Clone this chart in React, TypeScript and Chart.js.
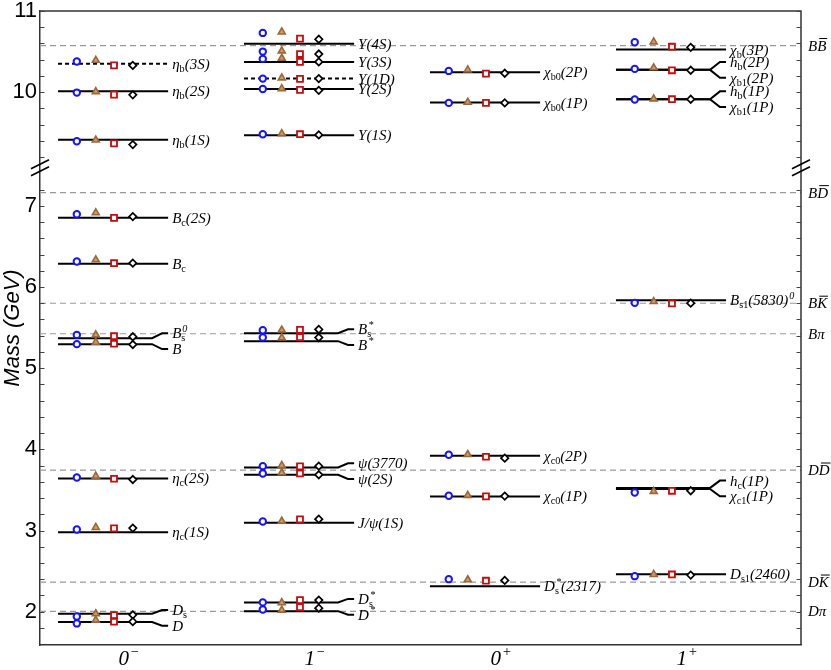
import React, { useEffect, useRef } from "react";
import { Chart, registerables } from "chart.js";

Chart.register(...registerables);

// ---------------- data ----------------
const GROUPS = ["0^{−}", "1^{−}", "0^{+}", "1^{+}"];
const GROUP_TICKS = [1, 2, 3, 4];
const Y_TICKS = [2, 3, 4, 5, 6, 7, 10, 11];

const STATE_NAMES = [
  "η_{b}(3S)", "η_{b}(2S)", "η_{b}(1S)", "B_{c}(2S)", "B_{c}", "B_{s}^{0}", "B",
  "η_{c}(2S)", "η_{c}(1S)", "D_{s}", "D",
  "Υ(4S)", "Υ(3S)", "Υ(1D)", "Υ(2S)", "Υ(1S)", "B_{s}^{*}", "B^{*}",
  "ψ(3770)", "ψ(2S)", "J/ψ(1S)", "D_{s}^{*}", "D^{*}",
  "χ_{b0}(2P)", "χ_{b0}(1P)", "χ_{c0}(2P)", "χ_{c0}(1P)", "D_{s}^{*}(2317)",
  "χ_{b}(3P)", "h_{b}(2P)", "χ_{b1}(2P)", "h_{b}(1P)", "χ_{b1}(1P)",
  "B_{s1}(5830)^{0}", "h_{c}(1P)", "χ_{c1}(1P)", "D_{s1}(2460)",
];
const STATE_GROUP = [
  0, 0, 0, 0, 0, 0, 0, 0, 0, 0, 0,
  1, 1, 1, 1, 1, 1, 1, 1, 1, 1, 1, 1,
  2, 2, 2, 2, 2,
  3, 3, 3, 3, 3, 3, 3, 3, 3,
];
const STATE_MASS = [
  10.349, 10.011, 9.413, 6.852, 6.286, 5.369, 5.296, 3.642, 2.98, 1.975, 1.872,
  10.598, 10.373, 10.167, 10.04, 9.469, 5.431, 5.333, 3.777, 3.687, 3.096, 2.115, 2.007,
  10.245, 9.872, 3.921, 3.42, 2.315,
  10.525, 10.275, 10.275, 9.913, 9.913, 5.837, 3.525, 3.511, 2.463,
];
const STATE_DASHED = [
  true, false, false, false, false, false, false, false, false, false, false,
  false, false, true, false, false, false, false, false, false, false, false, false,
  false, false, false, false, false,
  false, false, false, false, false, false, false, false, false,
];
// +1: label forked upward, -1: forked downward (paired with neighbour), 0: straight
const STATE_SIDE = [
  0, 0, 0, 0, 0, 1, -1, 0, 0, 1, -1,
  0, 0, 0, 0, 0, 1, -1, 1, -1, 0, 1, -1,
  0, 0, 0, 0, 0,
  0, 1, -1, 1, -1, 0, 1, -1, 0,
];

const THRESHOLD_NAMES = ["B~{B}", "B~{D}", "B~{K}", "Bπ", "D~{D}", "D~{K}", "Dπ"];
const THRESHOLD_MASS = [10.574, 7.162, 5.8, 5.424, 3.745, 2.365, 2.005];

const MARK_GROUP = [
  0, 0, 0, 0, 0, 0, 0, 0, 0, 0, 0,
  1, 1, 1, 1, 1, 1, 1, 1, 1, 1, 1, 1, 1,
  2, 2, 2, 2, 2,
  3, 3, 3, 3, 3, 3,
];
const MARK_CIRCLE = [
  10.377, 9.995, 9.395, 6.897, 6.314, 5.41, 5.296, 3.654, 3.013, 1.942, 1.856,
  10.73, 10.5, 10.41, 10.167, 10.04, 9.482, 5.468, 5.378, 3.793, 3.703, 3.112, 2.115, 2.028,
  10.262, 9.868, 3.933, 3.429, 2.401,
  10.615, 10.287, 9.909, 5.805, 3.469, 2.438,
];
const MARK_TRIANGLE = [
  10.393, 10.007, 9.41, 6.914, 6.335, 5.411, 5.32, 3.67, 3.038, 1.975, 1.897,
  10.742, 10.509, 10.418, 10.176, 10.044, 9.49, 5.47, 5.374, 3.802, 3.712, 3.116, 2.111, 2.02,
  10.275, 9.876, 3.937, 3.433, 2.394,
  10.62, 10.3, 9.917, 5.821, 3.482, 2.459,
];
const MARK_SQUARE = [
  10.33, 9.97, 9.37, 6.852, 6.293, 5.394, 5.301, 3.638, 3.026, 1.958, 1.877,
  10.66, 10.47, 10.373, 10.164, 10.028, 9.482, 5.472, 5.382, 3.79, 3.703, 3.137, 2.143, 2.057,
  10.229, 9.868, 3.909, 3.42, 2.382,
  10.56, 10.27, 9.913, 5.797, 3.49, 2.459,
];
const MARK_DIAMOND = [
  10.33, 9.967, 9.355, 6.868, 6.293, 5.387, 5.292, 3.629, 3.03, 1.962, 1.877,
  10.652, 10.47, 10.373, 10.167, 10.023, 9.474, 5.477, 5.378, 3.793, 3.687, 3.14, 2.143, 2.044,
  10.233, 9.868, 3.892, 3.424, 2.386,
  10.553, 10.27, 9.913, 5.801, 3.49, 2.451,
];

// ---------------- layout / style ----------------
const UPPER_FROM = 8.5; // masses above this live in the upper (bottomonium) panel
const UPPER_SHIFT = 1.6; // axis break: GeV removed between panels
const BREAK_MARK = 7.47; // plotted position of the break symbol
const Y_MIN = 1.59;
const Y_MAX_REAL = 11;
const X_MIN = 0.521;
const X_MAX = 4.613;
const LINE_START = -0.382;
const LINE_END = 0.21;
const BEND_START = 0.124;
const BEND_END = 0.177;
const MODEL_OFFSETS = [-0.281, -0.179, -0.081, 0.02];
const LABEL_SPREAD = 0.097;
const LABEL_SIZE = 15;
const XLABEL_SIZE = 21;
const SERIF = '"Liberation Serif", "Times New Roman", serif';
const SANS = '"Liberation Sans", Arial, sans-serif';

const toPlot = (m: number) => (m > UPPER_FROM ? m - UPPER_SHIFT : m);

function labelY(i: number): number {
  const side = STATE_SIDE[i];
  const y = toPlot(STATE_MASS[i]);
  if (!side) return y;
  const p = side > 0 ? i + 1 : i - 1;
  const mid = (y + toPlot(STATE_MASS[p])) / 2;
  return mid + side * LABEL_SPREAD;
}

type Seg = { t: string; k: "n" | "sub" | "sup" | "over" };
function parseRich(s: string): Seg[] {
  const segs: Seg[] = [];
  let buf = "";
  let i = 0;
  while (i < s.length) {
    const c = s[i];
    if ((c === "_" || c === "^" || c === "~") && s[i + 1] === "{") {
      if (buf) {
        segs.push({ t: buf, k: "n" });
        buf = "";
      }
      const end = s.indexOf("}", i);
      segs.push({ t: s.slice(i + 2, end), k: c === "_" ? "sub" : c === "^" ? "sup" : "over" });
      i = end + 1;
    } else {
      buf += c;
      i++;
    }
  }
  if (buf) segs.push({ t: buf, k: "n" });
  return segs;
}

// draws (or only measures, if dry) mini-markup text; returns its width
function drawRich(
  ctx: CanvasRenderingContext2D,
  x: number,
  yMid: number,
  text: string,
  size: number,
  dry = false
): number {
  const segs = parseRich(text);
  const base = yMid + size * 0.33;
  const small = size * 0.68;
  const it = (s: number) => `italic ${s}px ${SERIF}`;
  const up = (s: number) => `${s}px ${SERIF}`;
  ctx.textBaseline = "alphabetic";
  ctx.textAlign = "left";
  const put = (t: string, px: number, py: number) => {
    if (!dry) ctx.fillText(t, px, py);
  };
  let cx = x;
  for (let i = 0; i < segs.length; i++) {
    const s = segs[i];
    if (s.k === "n") {
      ctx.font = it(size);
      put(s.t, cx, base);
      cx += ctx.measureText(s.t).width;
    } else if (s.k === "over") {
      ctx.font = it(size);
      const w = ctx.measureText(s.t).width;
      put(s.t, cx, base);
      if (!dry) {
        ctx.lineWidth = 1;
        ctx.beginPath();
        ctx.moveTo(cx + size * 0.14, base - size * 0.8);
        ctx.lineTo(cx + w + size * 0.06, base - size * 0.8);
        ctx.stroke();
      }
      cx += w;
    } else if (s.k === "sub") {
      ctx.font = up(small);
      put(s.t, cx, base + size * 0.2);
      let w = ctx.measureText(s.t).width;
      const nx = segs[i + 1];
      if (nx && nx.k === "sup") {
        ctx.font = it(small);
        put(nx.t, cx + 1, base - size * 0.42);
        w = Math.max(w, ctx.measureText(nx.t).width + 1);
        i++;
      }
      cx += w;
    } else {
      ctx.font = it(small);
      put(s.t, cx + 1, base - size * 0.42);
      cx += ctx.measureText(s.t).width + 1;
    }
  }
  return cx - x;
}

const decorPlugin = {
  id: "decor",
  afterDraw(chart: any) {
    const { ctx, chartArea: a, scales } = chart;
    const x = scales.x;
    const y = scales.y;
    ctx.save();
    ctx.strokeStyle = "#333";
    ctx.lineWidth = 1.5;
    ctx.beginPath();
    ctx.moveTo(a.left, a.top);
    ctx.lineTo(a.right, a.top);
    ctx.lineTo(a.right, a.bottom);
    ctx.stroke();

    // inward ticks on both vertical axes
    const tickVals: number[] = [];
    for (let k = 9; k <= 36; k++) tickVals.push(k / 5);
    for (let k = 46; k <= 55; k++) tickVals.push(k / 5);
    ctx.lineWidth = 1;
    ctx.strokeStyle = "#444";
    for (const v of tickVals) {
      const py = Math.round(y.getPixelForValue(toPlot(v))) + 0.5;
      ctx.beginPath();
      ctx.moveTo(a.left, py);
      ctx.lineTo(a.left + 4.5, py);
      ctx.moveTo(a.right, py);
      ctx.lineTo(a.right - 4.5, py);
      ctx.stroke();
    }

    // axis-break marks
    const by = y.getPixelForValue(BREAK_MARK);
    ctx.strokeStyle = "#000";
    ctx.lineWidth = 1.6;
    for (const xx of [a.left, a.right]) {
      for (const d of [-3.5, 3.5]) {
        ctx.beginPath();
        ctx.moveTo(xx - 9, by + d + 4.5);
        ctx.lineTo(xx + 9, by + d - 4.5);
        ctx.stroke();
      }
    }

    ctx.fillStyle = "#000";
    ctx.strokeStyle = "#000";
    // category labels under the x axis, at the axis' tick positions
    x.ticks.forEach((t: any, i: number) => {
      const px = x.getPixelForValue(t.value);
      const w = drawRich(ctx, 0, 0, GROUPS[i], XLABEL_SIZE, true);
      drawRich(ctx, px - w / 2, a.bottom + 13, GROUPS[i], XLABEL_SIZE);
    });
    // state labels
    for (let i = 0; i < STATE_NAMES.length; i++) {
      const px = x.getPixelForValue(GROUP_TICKS[STATE_GROUP[i]] + LINE_END) + 4;
      const py = y.getPixelForValue(labelY(i));
      drawRich(ctx, px, py, STATE_NAMES[i], LABEL_SIZE);
    }
    // threshold labels
    for (let i = 0; i < THRESHOLD_NAMES.length; i++) {
      const py = y.getPixelForValue(toPlot(THRESHOLD_MASS[i]));
      drawRich(ctx, a.right + 7, py, THRESHOLD_NAMES[i], LABEL_SIZE);
    }
    ctx.restore();
  },
};

function buildDatasets() {
  const ds: any[] = [];
  THRESHOLD_MASS.forEach((m) => {
    ds.push({
      data: [
        { x: X_MIN, y: toPlot(m) },
        { x: X_MAX, y: toPlot(m) },
      ],
      showLine: true,
      borderColor: "#9a9a9a",
      borderWidth: 1.2,
      borderDash: [6, 4],
      pointRadius: 0,
      order: 10,
    });
  });
  STATE_MASS.forEach((m, i) => {
    const g = GROUP_TICKS[STATE_GROUP[i]];
    const y = toPlot(m);
    const data = STATE_SIDE[i]
      ? [
          { x: g + LINE_START, y },
          { x: g + BEND_START, y },
          { x: g + BEND_END, y: labelY(i) },
          { x: g + LINE_END, y: labelY(i) },
        ]
      : [
          { x: g + LINE_START, y },
          { x: g + LINE_END, y },
        ];
    ds.push({
      data,
      showLine: true,
      borderColor: "#000",
      borderWidth: 2,
      borderDash: STATE_DASHED[i] ? [4, 3] : [],
      pointRadius: 0,
      tension: 0,
      order: 5,
    });
  });
  const models = [
    { vals: MARK_CIRCLE, style: "circle", r: 3.2, bc: "#1414ff", bg: "#ffffff", bw: 2 },
    { vals: MARK_TRIANGLE, style: "triangle", r: 4.0, bc: "#9c6737", bg: "#c99e6c", bw: 1.6 },
    { vals: MARK_SQUARE, style: "rect", r: 4.2, bc: "#c40c0c", bg: "#ffffff", bw: 1.8 },
    { vals: MARK_DIAMOND, style: "rectRot", r: 3.7, bc: "#000000", bg: "#ffffff", bw: 1.7 },
  ];
  models.forEach((md, k) => {
    ds.push({
      data: md.vals.map((v, j) => ({ x: GROUP_TICKS[MARK_GROUP[j]] + MODEL_OFFSETS[k], y: toPlot(v) })),
      showLine: false,
      pointStyle: md.style,
      pointRadius: md.r,
      borderColor: md.bc,
      backgroundColor: md.bg,
      borderWidth: md.bw,
      order: 1 - k * 0.01,
    });
  });
  return ds;
}

export default function App() {
  const ref = useRef<HTMLCanvasElement>(null);
  useEffect(() => {
    document.body.style.margin = "0";
    const chart = new Chart(ref.current as HTMLCanvasElement, {
      type: "scatter",
      data: { datasets: buildDatasets() },
      options: {
        responsive: false,
        animation: false,
        devicePixelRatio: 1,
        events: [],
        layout: { padding: { top: 11, right: 30, left: 0, bottom: 0 } },
        plugins: { legend: { display: false }, tooltip: { enabled: false } },
        scales: {
          x: {
            type: "linear",
            min: X_MIN,
            max: X_MAX,
            afterBuildTicks: (s: any) => {
              s.ticks = GROUP_TICKS.map((v) => ({ value: v }));
            },
            afterFit: (s: any) => {
              s.height = 25;
              s.paddingLeft = 0;
              s.paddingRight = 0;
            },
            ticks: { display: false, autoSkip: false },
            grid: { display: false, drawTicks: false },
            border: { display: true, color: "#333", width: 1.5 },
          },
          y: {
            type: "linear",
            min: Y_MIN,
            max: toPlot(Y_MAX_REAL),
            afterBuildTicks: (s: any) => {
              s.ticks = Y_TICKS.map((v) => ({ value: toPlot(v) }));
            },
            afterFit: (s: any) => {
              s.width = 40;
              s.paddingTop = 0;
              s.paddingBottom = 0;
            },
            ticks: {
              autoSkip: false,
              callback: (_v: any, i: number) => String(Y_TICKS[i]),
              font: { family: SANS, size: 22 },
              color: "#000",
              padding: 3,
            },
            title: {
              display: true,
              text: "Mass (GeV)",
              font: { family: SANS, size: 22, style: "italic" },
              color: "#000",
              padding: 0,
            },
            grid: { display: false, drawTicks: false },
            border: { display: true, color: "#333", width: 1.5 },
          },
        },
      } as any,
      plugins: [decorPlugin],
    });
    return () => chart.destroy();
  }, []);
  return (
    <div style={{ width: 831, height: 670 }}>
      <canvas ref={ref} width={831} height={670} style={{ display: "block" }} />
    </div>
  );
}
